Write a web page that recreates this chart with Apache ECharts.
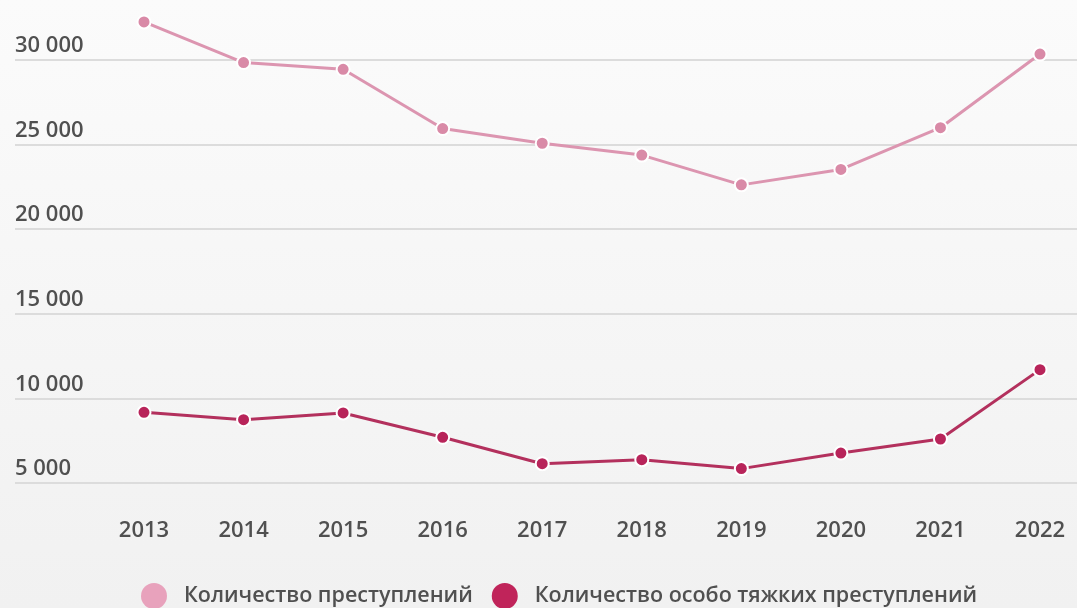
<!DOCTYPE html>
<html>
<head>
<meta charset="utf-8">
<script src="https://cdn.jsdelivr.net/npm/echarts@6/dist/echarts.min.js"></script>
<style>
html,body{margin:0;padding:0;width:1077px;height:608px;overflow:hidden;}
#c{width:1077px;height:608px;}
</style>
</head>
<body>
<div id="c"></div>
<script>
const years = ['2013','2014','2015','2016','2017','2018','2019','2020','2021','2022'];
const allCrimes = [32250, 29850, 29450, 25950, 25080, 24380, 22620, 23530, 26000, 30350];
const graveCrimes = [9180, 8740, 9140, 7700, 6140, 6380, 5850, 6770, 7600, 11700];
const seriesNames = ['Количество преступлений', 'Количество особо тяжких преступлений'];

const chart = echarts.init(document.getElementById('c'));
const txt = '#505050';
const ff = '"Open Sans", sans-serif';
const fw = 600;
const fmt = v => String(v).replace(/\B(?=(\d{3})+(?!\d))/g, ' ');

chart.setOption({
  backgroundColor: {type:'linear', x:0, y:0, x2:0, y2:1,
    colorStops:[{offset:0,color:'#fbfbfb'},{offset:1,color:'#f1f1f1'}]},
  animation: false,
  textStyle: {fontFamily: ff},
  grid: [
    {left: 15, right: 0, top: 60, bottom: 125},
    {left: 144, right: 37, top: 60, bottom: 125}
  ],
  xAxis: [
    {gridIndex: 0, type: 'value', min: 0, max: 1, show: false},
    {gridIndex: 1, type: 'category', data: years, boundaryGap: false,
     axisLine: {show: false}, axisTick: {show: false},
     axisLabel: {color: txt, fontSize: 22, fontWeight: fw, margin: 37, fontFamily: ff}}
  ],
  yAxis: [
    {gridIndex: 0, type: 'value', min: 5000, max: 30000, interval: 5000,
     axisLine: {show: false}, axisTick: {show: false},
     splitLine: {lineStyle: {color: '#dcdcdc', width: 2}},
     axisLabel: {inside: true, margin: 0, verticalAlign: 'bottom', padding: [0,0,3,0],
       color: txt, fontSize: 22, fontWeight: fw, fontFamily: ff, formatter: fmt}},
    {gridIndex: 1, type: 'value', min: 5000, max: 30000, interval: 5000, show: false,
     splitLine: {show: false}}
  ],
  legend: {
    left: 136, top: 578, icon: 'circle', itemWidth: 26, itemHeight: 26, itemGap: 19,
    textStyle: {color: txt, fontSize: 21.5, fontWeight: fw, fontFamily: ff, padding: [0,0,0,12]},
    data: [
      {name: seriesNames[0], itemStyle: {color: '#e8a2bc', borderWidth: 0}},
      {name: seriesNames[1], itemStyle: {color: '#c0245a', borderWidth: 0}}
    ]
  },
  series: [
    {name: seriesNames[0], type: 'line', xAxisIndex: 1, yAxisIndex: 1, data: allCrimes,
     clip: false, symbol: 'circle', symbolSize: 13,
     lineStyle: {color: '#dc95b0', width: 3},
     itemStyle: {color: '#d98aa7', borderColor: '#ffffff', borderWidth: 2}},
    {name: seriesNames[1], type: 'line', xAxisIndex: 1, yAxisIndex: 1, data: graveCrimes,
     clip: false, symbol: 'circle', symbolSize: 13,
     lineStyle: {color: '#b3305d', width: 3},
     itemStyle: {color: '#b8245a', borderColor: '#ffffff', borderWidth: 2}}
  ]
});
</script>
</body>
</html>
